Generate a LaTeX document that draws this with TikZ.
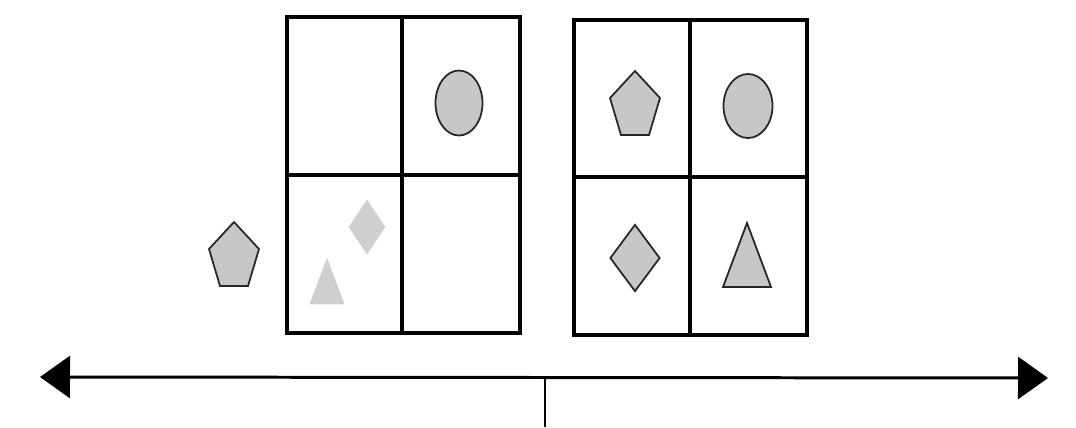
\documentclass[tikz,border=0pt]{standalone}
\usepackage{tikz}
\usetikzlibrary{arrows.meta,positioning,calc,shapes.geometric}
\tikzset{
  shapeline/.style={draw=black!85, line width=1pt, fill=black!22},
  faded/.style={draw=none, fill=black!19},
  gridline/.style={line width=2.4pt},
  axisline/.style={line width=1.7pt, {Triangle[length=0.6cm,width=0.84cm]}-{Triangle[length=0.6cm,width=0.84cm]}}
}
% pentagon and triangle around a named centre
\newcommand{\pentagonat}[2]{
  \draw[#2, shift={(#1)}] (0,-32) -- (25,-5) -- (14,32) -- (-14,32) -- (-25,-5) -- cycle;
}
\newcommand{\triangleat}[3]{
  \draw[#2, shift={(#1)}, scale=#3] (0,-32) -- (24,32) -- (-24,32) -- cycle;
}
\newcommand{\quadgrid}[6]{
  \draw[gridline] (#1,#2) rectangle (#3,#4);
  \draw[gridline] (#5,#2) -- (#5,#4);
  \draw[gridline] (#1,#6) -- (#3,#6);
}

\begin{document}
\begin{tikzpicture}[x=0.02cm,y=-0.02cm]
\useasboundingbox (0,0) rectangle (1076,427);
% left grid
\quadgrid{287}{17}{520}{333}{402}{175}
\node[ellipse, shapeline, minimum width=0.94cm, minimum height=1.3cm] (lcirc) at (459,103) {};
\node[diamond, faded, minimum width=0.74cm, minimum height=1.1cm] (ldiam) at (367,227) {};
\coordinate (ltri) at (327,281);
\triangleat{ltri}{faded}{0.73}
\coordinate (lpent) at (234,254);
\pentagonat{lpent}{shapeline}
% right grid
\quadgrid{574}{20}{807}{335}{690}{177}
\coordinate (rpent) at (635,103);
\pentagonat{rpent}{shapeline}
\node[ellipse, shapeline, minimum width=0.98cm, minimum height=1.28cm] (rcirc) at (748,106) {};
\node[diamond, shapeline, minimum width=1.0cm, minimum height=1.34cm] (rdiam) at (635,258) {};
\coordinate (rtri) at (747,255);
\triangleat{rtri}{shapeline}{1}
% number line
\coordinate (lend) at (40,377);
\coordinate (rend) at (1048,378);
\coordinate (mid) at (545,377);
\coordinate (tickend) at (545,427);
\draw[axisline] (lend) -- (rend);
\draw[line width=0.8pt] (mid) -- (tickend);
\end{tikzpicture}
\end{document}
